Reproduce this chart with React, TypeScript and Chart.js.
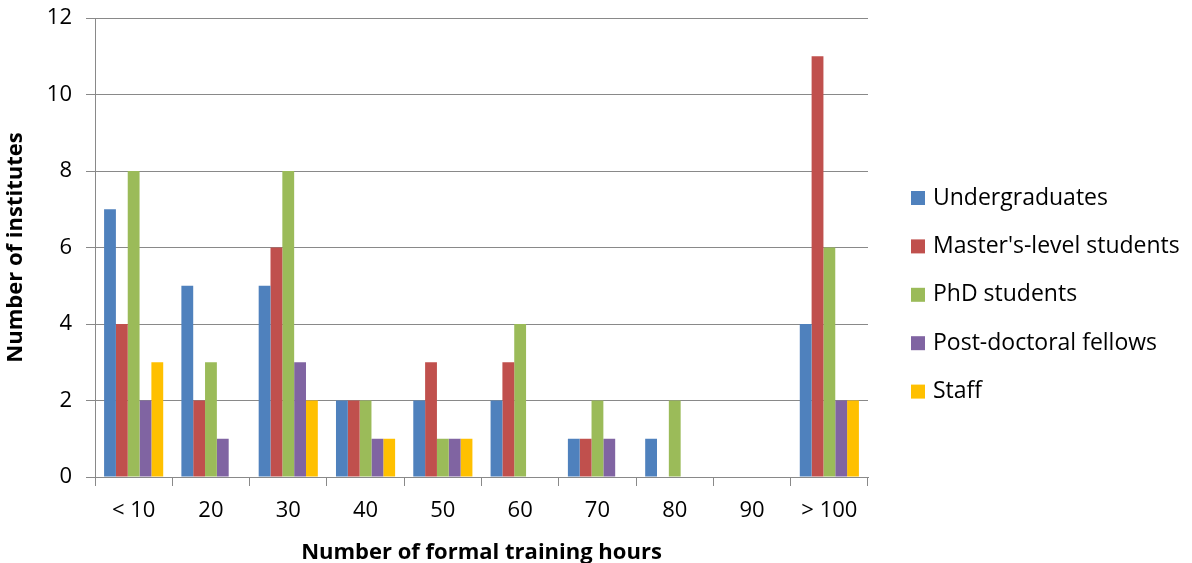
import React, { useEffect, useRef } from "react";
import { Chart, registerables } from "chart.js";

Chart.register(...registerables);

const categories = ["< 10", "20", "30", "40", "50", "60", "70", "80", "90", "> 100"];
const undergraduates = [7, 5, 5, 2, 2, 2, 1, 1, 0, 4];
const masters = [4, 2, 6, 2, 3, 3, 1, 0, 0, 11];
const phd = [8, 3, 8, 2, 1, 4, 2, 2, 0, 6];
const postdocs = [2, 1, 3, 1, 1, 0, 1, 0, 0, 2];
const staff = [3, 0, 2, 1, 1, 0, 0, 0, 0, 2];
const seriesNames = ["Undergraduates", "Master's-level students", "PhD students", "Post-doctoral fellows", "Staff"];
const seriesColors = ["#4F81BD", "#C0504D", "#9BBB59", "#8064A2", "#FFC000"];

const FONT = "'Open Sans', 'Noto Sans', sans-serif";
const GRID = "#898989";

const legendPlugin = {
  id: "sideLegend",
  afterDraw(chart: any) {
    const ctx = chart.ctx;
    ctx.save();
    ctx.font = `23px ${FONT}`;
    ctx.textBaseline = "middle";
    ctx.textAlign = "left";
    const x0 = 911;
    const y0 = 198;
    const step = 48.4;
    chart.data.datasets.forEach((ds: any, i: number) => {
      const y = y0 + i * step;
      ctx.fillStyle = ds.backgroundColor;
      ctx.fillRect(x0, y - 7, 14, 14);
      ctx.fillStyle = "#000000";
      ctx.fillText(ds.label, x0 + 22, y);
    });
    ctx.restore();
  },
};

export default function App() {
  const ref = useRef<HTMLCanvasElement | null>(null);
  useEffect(() => {
    if (!ref.current) return;
    const data = [undergraduates, masters, phd, postdocs, staff];
    const chart = new Chart(ref.current, {
      type: "bar",
      data: {
        labels: categories,
        datasets: seriesNames.map((name, i) => ({
          label: name,
          data: data[i],
          backgroundColor: seriesColors[i],
          borderWidth: 0,
          barPercentage: 1.0,
          categoryPercentage: 0.765,
        })),
      },
      options: {
        animation: false,
        responsive: false,
        maintainAspectRatio: false,
        layout: { padding: { top: 18, right: 324, left: 0, bottom: 0 } },
        plugins: {
          legend: { display: false },
          tooltip: { enabled: false },
        },
        scales: {
          x: {
            afterFit: (scale: any) => {
              scale.height = 86;
            },
            grid: {
              offset: true,
              drawOnChartArea: false,
              drawTicks: true,
              tickLength: 9,
              color: GRID,
              lineWidth: 1,
            },
            border: { display: true, color: GRID, width: 1 },
            ticks: {
              color: "#000000",
              font: { family: FONT, size: 22 },
              padding: 12,
              maxRotation: 0,
              autoSkip: false,
            },
            title: {
              display: true,
              text: "Number of formal training hours",
              color: "#000000",
              font: { family: FONT, size: 22, weight: "bold" },
              padding: { top: 0, bottom: -3 },
            },
          },
          y: {
            min: 0,
            max: 12,
            afterFit: (scale: any) => {
              scale.width = 95;
              scale.paddingTop = 0;
              scale.paddingBottom = 0;
            },
            grid: {
              color: GRID,
              lineWidth: 1,
              tickLength: 9,
              drawTicks: true,
            },
            border: { display: true, color: GRID, width: 1 },
            ticks: {
              stepSize: 2,
              color: "#000000",
              font: { family: FONT, size: 22 },
              padding: 14,
            },
            title: {
              display: true,
              text: "Number of institutes",
              color: "#000000",
              font: { family: FONT, size: 22, weight: "bold" },
              padding: { top: 3, bottom: 0 },
            },
          },
        },
      },
      plugins: [legendPlugin],
    });
    return () => chart.destroy();
  }, []);
  return (
    <div style={{ position: "fixed", left: 0, top: 0, width: 1192, height: 563, background: "#ffffff" }}>
      <canvas ref={ref} width={1192} height={563} style={{ width: 1192, height: 563, display: "block" }} />
    </div>
  );
}
